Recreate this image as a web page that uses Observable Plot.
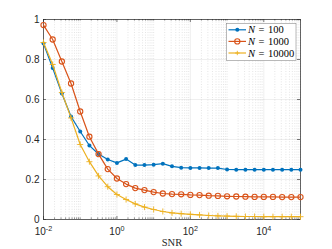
<!DOCTYPE html>
<html><head><meta charset="utf-8">
<script src="https://cdn.jsdelivr.net/npm/d3@7"></script>
<script src="https://cdn.jsdelivr.net/npm/@observablehq/plot@0.6"></script>
<style>
html,body{margin:0;padding:0;background:#fff;}
svg{display:block;}
</style></head><body><div id="chart"></div>
<script>
// SNR sample points (as powers of ten)
const snrExponent = [-2,-1.75,-1.5,-1.25,-1,-0.75,-0.5,-0.25,0,0.25,0.5,0.75,1,1.25,1.5,1.75,2,2.25,2.5,2.75,3,3.25,3.5,3.75,4,4.25,4.5,4.75,5];
const n100   = [0.88,0.757,0.63,0.515,0.44,0.37,0.327,0.30,0.283,0.302,0.272,0.272,0.274,0.279,0.266,0.259,0.258,0.258,0.257,0.257,0.25,0.249,0.249,0.249,0.249,0.249,0.249,0.249,0.249];
const n1000  = [0.972,0.90,0.79,0.68,0.54,0.414,0.327,0.252,0.205,0.177,0.157,0.147,0.137,0.13,0.127,0.126,0.123,0.122,0.119,0.118,0.116,0.115,0.114,0.113,0.113,0.113,0.112,0.112,0.112];
const n10000 = [0.885,0.775,0.635,0.508,0.375,0.289,0.218,0.164,0.125,0.10,0.078,0.062,0.05,0.04,0.033,0.029,0.026,0.023,0.02,0.018,0.017,0.016,0.015,0.015,0.014,0.014,0.014,0.014,0.014];
const seriesNames = ["100","1000","10000"];
const seriesColors = ["#0072BD","#D95319","#EDB120"];
const xTickExponents = [-2,0,2,4];
const yTicks = [0,0.2,0.4,0.6,0.8,1];
const yTickLabels = ["0","0.2","0.4","0.6","0.8","1"];
const xLabel = "SNR";

const W = 332, H = 249, mL = 43, mR = 32, mT = 19, mB = 30;
const innerH = H - mT - mB, innerW = W - mL - mR;
const axisColor = "#262626";

const rows = (vals) => snrExponent.map((e, i) => ({snr: Math.pow(10, e), v: vals[i]}));
const d100 = rows(n100), d1000 = rows(n1000), d10000 = rows(n10000);

const majorX = xTickExponents.map(e => Math.pow(10, e));
const minorX = [];
for (let e = -2; e < 5; e++) for (let m = 1; m <= 9; m++) {
  const v = m * Math.pow(10, e);
  if (!majorX.some(t => Math.abs(t - v) / v < 1e-9)) minorX.push(v);
}
minorX.push(1e5);

const svg = Plot.plot({
  width: W, height: H,
  marginLeft: mL, marginRight: mR, marginTop: mT, marginBottom: mB,
  style: {fontFamily: "'Liberation Sans', Arial, sans-serif", fontSize: "10px", color: axisColor, background: "white"},
  x: {type: "log", domain: [1e-2, 1e5]},
  y: {domain: [0, 1]},
  marks: [
    Plot.ruleX(minorX, {stroke: axisColor, strokeOpacity: 0.2, strokeWidth: 0.6, strokeDasharray: "1,1.6"}),
    Plot.ruleX(majorX, {stroke: axisColor, strokeOpacity: 0.13, strokeWidth: 0.6}),
    Plot.ruleY(yTicks, {stroke: axisColor, strokeOpacity: 0.13, strokeWidth: 0.6}),
    // inward ticks
    Plot.tickX(majorX, {x: d => d, insetTop: innerH - 3, stroke: axisColor, strokeWidth: 0.6}),
    Plot.tickX(majorX, {x: d => d, insetBottom: innerH - 3, stroke: axisColor, strokeWidth: 0.6}),
    Plot.tickX(minorX, {x: d => d, insetTop: innerH - 1.6, stroke: axisColor, strokeWidth: 0.5}),
    Plot.tickX(minorX, {x: d => d, insetBottom: innerH - 1.6, stroke: axisColor, strokeWidth: 0.5}),
    Plot.tickY(yTicks, {y: d => d, insetRight: innerW - 3, stroke: axisColor, strokeWidth: 0.6}),
    Plot.tickY(yTicks, {y: d => d, insetLeft: innerW - 3, stroke: axisColor, strokeWidth: 0.6}),
    Plot.frame({stroke: axisColor, strokeWidth: 0.7}),
    // series
    Plot.line(d100, {x: "snr", y: "v", stroke: seriesColors[0], strokeWidth: 1.2}),
    Plot.dot(d100, {x: "snr", y: "v", r: 2, fill: seriesColors[0]}),
    Plot.line(d1000, {x: "snr", y: "v", stroke: seriesColors[1], strokeWidth: 1.2}),
    Plot.dot(d1000, {x: "snr", y: "v", r: 2.6, stroke: seriesColors[1], strokeWidth: 1.1, fill: "none"}),
    Plot.line(d10000, {x: "snr", y: "v", stroke: seriesColors[2], strokeWidth: 1.2}),
    Plot.dot(d10000, {x: "snr", y: "v", r: 2.1, symbol: "plus", stroke: seriesColors[2], strokeWidth: 0.9}),
    // axes
    Plot.axisX({ticks: majorX, tickSize: 0, tickPadding: 8, label: null,
      tickFormat: d => "10^" + Math.round(Math.log10(d))}),
    Plot.axisY({ticks: yTicks, tickSize: 0, tickPadding: 4, label: null,
      tickFormat: d => yTickLabels[yTicks.findIndex(t => Math.abs(t - d) < 1e-9)]}),
    Plot.text([xLabel], {text: d => d, frameAnchor: "bottom", lineAnchor: "bottom", dy: 26.5,
      fontFamily: "'Liberation Serif', 'Times New Roman', serif", fontSize: 10.5, fill: axisColor})
  ]
});

// superscript exponents on the x tick labels
d3.select(svg).selectAll('g[aria-label="x-axis tick label"] text').each(function() {
  const t = d3.select(this);
  const s = t.text();
  const parts = s.split("^");
  if (parts.length !== 2) return;
  t.text("");
  t.append("tspan").text(parts[0]);
  t.append("tspan").attr("dy", "-0.45em").attr("font-size", "0.72em").text(parts[1]);
});

// legend (inside the axes, top right)
const lg = d3.select(svg).append("g").attr("class", "legend").attr("text-anchor", "start");
const lx = 226.5, ly = 23.5, lw = 69.5, lh = 37;
lg.append("rect").attr("x", lx).attr("y", ly).attr("width", lw).attr("height", lh)
  .attr("fill", "white").attr("stroke", "#8a8a8a").attr("stroke-width", 0.6);
seriesNames.forEach((name, i) => {
  const cy = ly + 6.3 + i * 11.6;
  const g = lg.append("g");
  g.append("line").attr("x1", lx + 2).attr("x2", lx + 19.5).attr("y1", cy).attr("y2", cy)
    .attr("stroke", seriesColors[i]).attr("stroke-width", 1.2);
  const mx = lx + 10.8;
  if (i === 0) g.append("circle").attr("cx", mx).attr("cy", cy).attr("r", 2).attr("fill", seriesColors[i]);
  if (i === 1) g.append("circle").attr("cx", mx).attr("cy", cy).attr("r", 2.6).attr("fill", "none")
    .attr("stroke", seriesColors[i]).attr("stroke-width", 1.1);
  if (i === 2) g.append("path").attr("d", `M${mx-2.2},${cy}H${mx+2.2}M${mx},${cy-2.2}V${cy+2.2}`)
    .attr("stroke", seriesColors[i]).attr("stroke-width", 0.9);
  const tx = g.append("text").attr("x", lx + 21.5).attr("y", cy + 3.6).attr("text-anchor", "start")
    .attr("font-family", "'Liberation Serif', 'Times New Roman', serif").attr("font-size", 10.5)
    .attr("fill", "#000");
  tx.append("tspan").attr("font-style", "italic").text("N");
  tx.append("tspan").text("\u2004=\u2004" + name);
});

document.getElementById("chart").appendChild(svg);
</script>
</body></html>
